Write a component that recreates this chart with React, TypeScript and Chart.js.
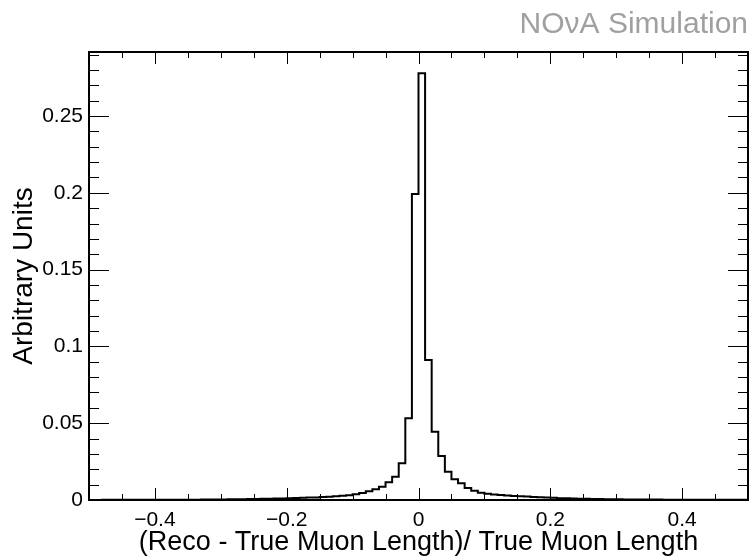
import React, { useEffect, useRef } from "react";
import { Chart, registerables } from "chart.js";

Chart.register(...registerables);

// ---- Data ----
const X_MIN = -0.5;
const X_MAX = 0.5;
const BIN_WIDTH = 0.01;
const Y_MIN = 0;
const Y_MAX = 0.2917;

// 100 bins from -0.5 to 0.5 (bin width 0.01)
const binValues: number[] = [
  // -0.50 .. -0.40
  0.00008, 0.00008, 0.00009, 0.0001, 0.0001, 0.00011, 0.00012, 0.00012, 0.00013, 0.00014,
  // -0.40 .. -0.30
  0.00015, 0.00016, 0.00017, 0.00018, 0.0002, 0.00021, 0.00023, 0.00025, 0.00027, 0.0003,
  // -0.30 .. -0.20
  0.0004, 0.00045, 0.0005, 0.00056, 0.00062, 0.0007, 0.00078, 0.00086, 0.00095, 0.00105,
  // -0.20 .. -0.10
  0.0012, 0.0013, 0.0014, 0.0016, 0.0017, 0.0019, 0.0021, 0.0024, 0.0027, 0.0031,
  // -0.10 .. 0.00
  0.0037, 0.0046, 0.0057, 0.007, 0.0087, 0.0115, 0.0152, 0.0239, 0.0532, 0.1992,
  // 0.00 .. 0.10
  0.2778, 0.0911, 0.0445, 0.0286, 0.0184, 0.0135, 0.0109, 0.0078, 0.0061, 0.0048,
  // 0.10 .. 0.20
  0.0041, 0.0036, 0.0032, 0.0029, 0.0026, 0.0024, 0.0022, 0.002, 0.0018, 0.0016,
  // 0.20 .. 0.30
  0.0014, 0.0012, 0.0011, 0.00095, 0.00085, 0.00075, 0.00068, 0.0006, 0.00054, 0.00048,
  // 0.30 .. 0.40
  0.00044, 0.0004, 0.00036, 0.00033, 0.0003, 0.00027, 0.00025, 0.00023, 0.00021, 0.00019,
  // 0.40 .. 0.50
  0.00018, 0.00016, 0.00015, 0.00014, 0.00013, 0.00012, 0.00011, 0.0001, 0.0001, 0.00009,
];

const xTickValues = [-0.4, -0.2, 0, 0.2, 0.4];
const xTickLabels = ["\u22120.4", "\u22120.2", "0", "0.2", "0.4"];
const yTickValues = [0, 0.05, 0.1, 0.15, 0.2, 0.25];
const yTickLabels = ["0", "0.05", "0.1", "0.15", "0.2", "0.25"];
const X_MINOR_STEP = 0.05;
const Y_MINOR_STEP = 0.01;

const xTitle = "(Reco - True Muon Length)/ True Muon Length";
const yTitle = "Arbitrary Units";
const headerText = "NO\u03BDA Simulation";

const FONT = "'Liberation Sans', Arial, Helvetica, sans-serif";

const frameTicksPlugin = {
  id: "frameTicks",
  afterDatasetsDraw(chart: any) {
    const { ctx, chartArea: a, scales } = chart;
    const x = scales.x;
    const y = scales.y;
    ctx.save();
    ctx.strokeStyle = "#000";
    ctx.lineWidth = 1;
    ctx.beginPath();
    const nx = Math.round((X_MAX - X_MIN) / X_MINOR_STEP);
    for (let i = 0; i <= nx; i++) {
      const v = X_MIN + i * X_MINOR_STEP;
      const major = xTickValues.some((t) => Math.abs(t - v) < 1e-6);
      const len = major ? 12 : 6;
      const px = Math.round(x.getPixelForValue(v)) + 0.5;
      ctx.moveTo(px, a.bottom);
      ctx.lineTo(px, a.bottom - len);
      ctx.moveTo(px, a.top);
      ctx.lineTo(px, a.top + len);
    }
    const ny = Math.floor((Y_MAX - Y_MIN) / Y_MINOR_STEP + 1e-6);
    for (let i = 0; i <= ny; i++) {
      const v = Y_MIN + i * Y_MINOR_STEP;
      const major = yTickValues.some((t) => Math.abs(t - v) < 1e-6);
      const len = major ? 20 : 10;
      const py = Math.round(y.getPixelForValue(v)) + 0.5;
      ctx.moveTo(a.left, py);
      ctx.lineTo(a.left + len, py);
      ctx.moveTo(a.right, py);
      ctx.lineTo(a.right - len, py);
    }
    ctx.stroke();
    ctx.lineWidth = 2;
    ctx.strokeRect(a.left, a.top, a.right - a.left, a.bottom - a.top);
    ctx.restore();
  },
};

export default function App() {
  const canvasRef = useRef<HTMLCanvasElement | null>(null);

  useEffect(() => {
    document.body.style.margin = "0";
    const canvas = canvasRef.current;
    if (!canvas) return;

    const points: { x: number; y: number }[] = [{ x: X_MIN, y: 0 }];
    binValues.forEach((v, i) => points.push({ x: X_MIN + i * BIN_WIDTH, y: v }));
    points.push({ x: X_MAX, y: binValues[binValues.length - 1] });
    points.push({ x: X_MAX, y: 0 });

    const chart = new Chart(canvas, {
      type: "line",
      data: {
        datasets: [
          {
            data: points,
            stepped: "before",
            borderColor: "#000",
            borderWidth: 2,
            pointRadius: 0,
            fill: false,
            tension: 0,
          },
        ],
      },
      options: {
        animation: false,
        responsive: false,
        devicePixelRatio: 1,
        layout: { padding: { left: 0, right: 8, top: 0, bottom: 0 } },
        plugins: {
          legend: { display: false },
          tooltip: { enabled: false },
          title: {
            display: true,
            text: headerText,
            align: "end",
            color: "#a0a0a0",
            font: { family: FONT, size: 30, weight: "normal", lineHeight: 1 },
            padding: { top: 10, bottom: 12 },
          },
        },
        scales: {
          x: {
            type: "linear",
            min: X_MIN,
            max: X_MAX,
            grid: { display: false, drawTicks: false },
            border: { display: false },
            afterBuildTicks: (s: any) => {
              s.ticks = xTickValues.map((v) => ({ value: v }));
            },
            afterFit: (s: any) => {
              s.height = 57;
            },
            ticks: {
              color: "#000",
              padding: 8,
              maxRotation: 0,
              autoSkip: false,
              font: { family: FONT, size: 21 },
              callback: (val: any) => {
                const i = xTickValues.findIndex((t) => Math.abs(t - Number(val)) < 1e-9);
                return i >= 0 ? xTickLabels[i] : "";
              },
            },
            title: {
              display: true,
              text: xTitle,
              color: "#000",
              font: { family: FONT, size: 27, lineHeight: 1 },
              padding: { top: 0, bottom: 1 },
            },
          },
          y: {
            type: "linear",
            min: Y_MIN,
            max: Y_MAX,
            grid: { display: false, drawTicks: false },
            border: { display: false },
            afterBuildTicks: (s: any) => {
              s.ticks = yTickValues.map((v) => ({ value: v }));
            },
            afterFit: (s: any) => {
              s.width = 89;
            },
            ticks: {
              color: "#000",
              padding: 6,
              autoSkip: false,
              font: { family: FONT, size: 21 },
              callback: (val: any) => {
                const i = yTickValues.findIndex((t) => Math.abs(t - Number(val)) < 1e-9);
                return i >= 0 ? yTickLabels[i] : "";
              },
            },
            title: {
              display: true,
              text: yTitle,
              color: "#000",
              font: { family: FONT, size: 28, lineHeight: 1 },
              padding: { top: 10, bottom: 0 },
            },
          },
        },
      },
      plugins: [frameTicksPlugin],
    } as any);

    return () => chart.destroy();
  }, []);

  return (
    <div style={{ width: 756, height: 557 }}>
      <canvas ref={canvasRef} width={756} height={557} style={{ display: "block" }} />
    </div>
  );
}
